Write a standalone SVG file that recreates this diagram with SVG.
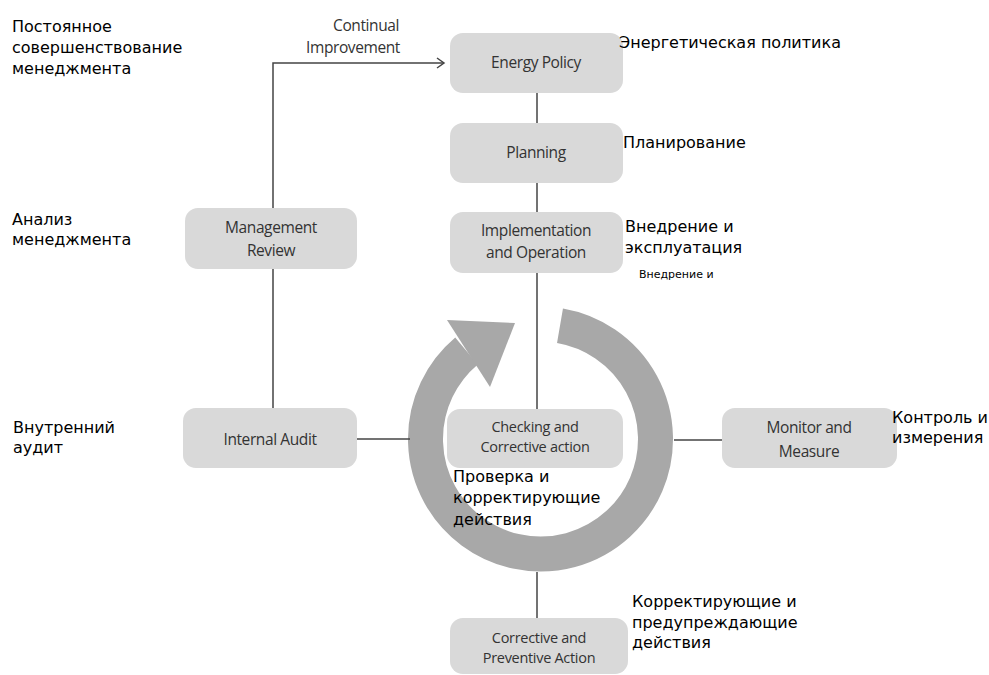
<svg xmlns="http://www.w3.org/2000/svg" width="989" height="675" viewBox="0 0 989 675">
<style>
.box{fill:#d9d9d9;}
.bt{font-family:"Open Sans",sans-serif;font-size:15.5px;fill:#333;text-anchor:middle;letter-spacing:-0.4px;}
.sm{font-size:14.5px;letter-spacing:-0.3px;}
.ru{font-family:"DejaVu Sans",sans-serif;font-size:16px;fill:#000;}
.ln{stroke:#444;stroke-width:1.5;fill:none;}
.ring{stroke:#a8a8a8;stroke-width:35;fill:none;}
</style>
<rect width="989" height="675" fill="#fff"/>
<g id="cycle">
<path class="ring" d="M560,325.7 A115,115 0 1 1 466.5,351"/>
<polygon points="447,320 515,323 490,387" fill="#a8a8a8"/>
</g>
<g id="connectors">
<line class="ln" x1="537" y1="93" x2="537" y2="123"/>
<line class="ln" x1="537" y1="183" x2="537" y2="212"/>
<line class="ln" x1="537" y1="273" x2="537" y2="410"/>
<line class="ln" x1="537" y1="572" x2="537" y2="618"/>
<polyline class="ln" points="273,408 273,63 444,63"/>
<polyline class="ln" points="437,58 444,63 437,68"/>
<line class="ln" x1="357" y1="439" x2="410" y2="439"/>
<line class="ln" x1="674" y1="440" x2="722" y2="440"/>
<text class="bt" x="366" y="31">Continual</text>
<text class="bt" x="353" y="53">Improvement</text>
</g>
<g id="energy-policy">
<rect class="box" x="450" y="33" width="173" height="60" rx="13"/>
<text class="bt" x="536" y="68">Energy Policy</text>
<text class="ru" x="619" y="48">Энергетическая политика</text>
</g>
<g id="planning">
<rect class="box" x="450" y="123" width="173" height="60" rx="13"/>
<text class="bt" x="536" y="158">Planning</text>
<text class="ru" x="623" y="148">Планирование</text>
</g>
<g id="implementation">
<rect class="box" x="450" y="212" width="173" height="61" rx="13"/>
<text class="bt" x="536" y="236">Implementation</text>
<text class="bt" x="536" y="258">and Operation</text>
<text class="ru" x="625" y="232">Внедрение и</text>
<text class="ru" x="625" y="253">эксплуатация</text>
<text class="ru" x="639" y="278" style="font-size:11px">Внедрение и</text>
</g>
<g id="management-review">
<rect class="box" x="185" y="208" width="172" height="61" rx="13"/>
<text class="bt" x="271" y="233">Management</text>
<text class="bt" x="271" y="256">Review</text>
<text class="ru" x="12" y="225">Анализ</text>
<text class="ru" x="12" y="245">менеджмента</text>
</g>
<g id="continual-improvement-label">
<text class="ru" x="12" y="32">Постоянное</text>
<text class="ru" x="12" y="53">совершенствование</text>
<text class="ru" x="12" y="74">менеджмента</text>
</g>
<g id="internal-audit">
<rect class="box" x="183" y="408" width="174" height="60" rx="13"/>
<text class="bt" x="270" y="445">Internal Audit</text>
<text class="ru" x="13" y="433">Внутренний</text>
<text class="ru" x="13" y="453">аудит</text>
</g>
<g id="checking">
<rect class="box" x="447" y="409" width="176" height="59" rx="13"/>
<text class="bt sm" x="535" y="432">Checking and</text>
<text class="bt sm" x="535" y="452">Corrective action</text>
<text class="ru" x="453" y="482">Проверка и</text>
<text class="ru" x="453" y="503">корректирующие</text>
<text class="ru" x="453" y="525">действия</text>
</g>
<g id="monitor-measure">
<rect class="box" x="722" y="408" width="175" height="60" rx="13"/>
<text class="bt" x="809" y="433">Monitor and</text>
<text class="bt" x="809" y="457">Measure</text>
<text class="ru" x="892" y="423">Контроль и</text>
<text class="ru" x="892" y="443">измерения</text>
</g>
<g id="corrective-preventive">
<rect class="box" x="450" y="618" width="178" height="56" rx="13"/>
<text class="bt sm" x="539" y="643">Corrective and</text>
<text class="bt sm" x="539" y="663">Preventive Action</text>
<text class="ru" x="632" y="607">Корректирующие и</text>
<text class="ru" x="632" y="628">предупреждающие</text>
<text class="ru" x="632" y="648">действия</text>
</g>
</svg>
